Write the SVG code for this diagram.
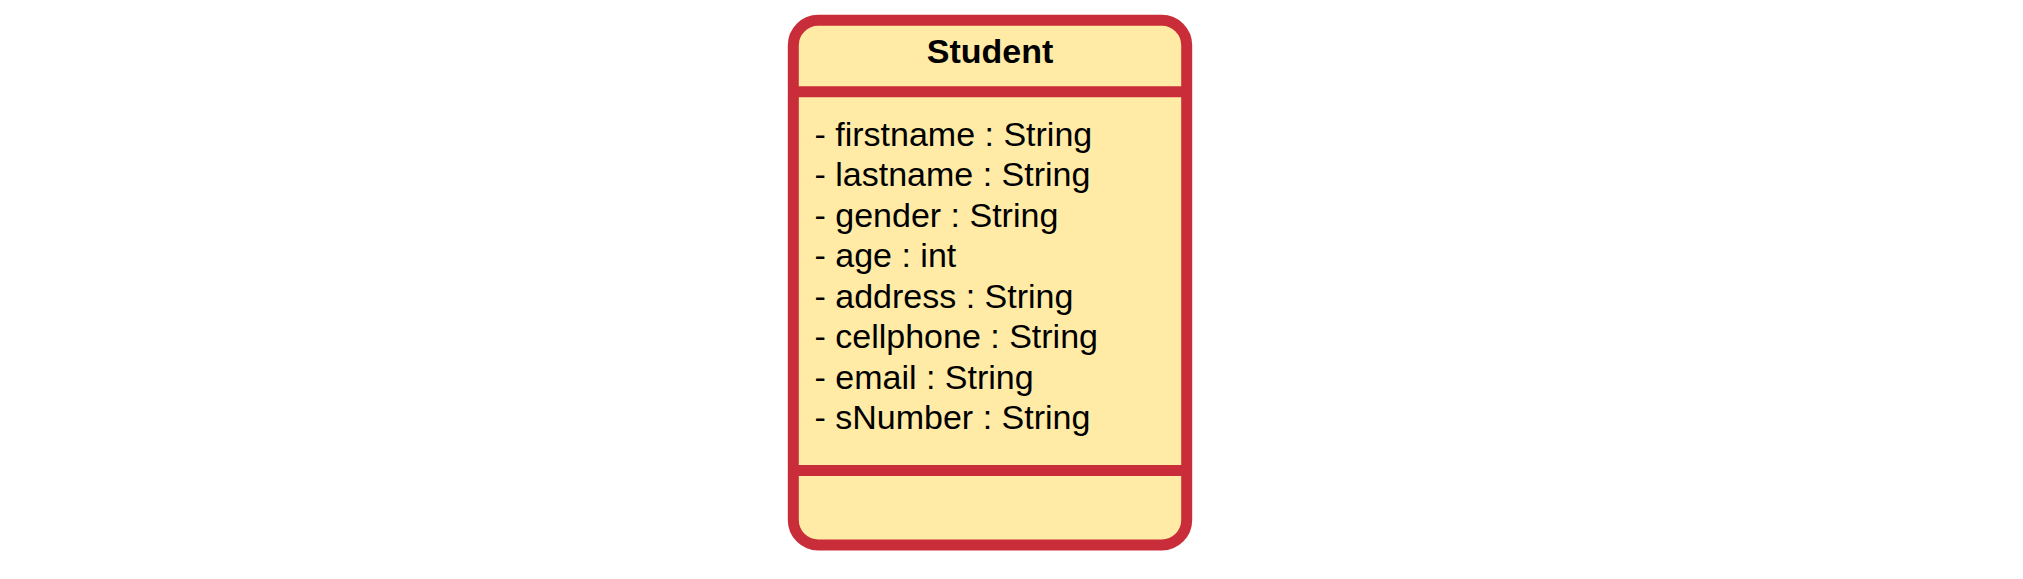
<svg xmlns="http://www.w3.org/2000/svg" width="2023" height="579" viewBox="0 0 2023 579">
<style>
.box{fill:#FFEBA6;stroke:#C92D39;stroke-width:11}
.div{stroke:#C92D39;stroke-width:11}
.title{font-family:"Liberation Sans",Arial,sans-serif;font-weight:bold;font-size:34px;fill:#000;text-anchor:middle}
.attr{font-family:"Liberation Sans",Arial,sans-serif;font-size:34px;fill:#000}
</style>
<rect width="2023" height="579" fill="#ffffff"/>
<g id="student">
<rect class="box" x="793.3" y="20.3" width="393.4" height="524.7" rx="25" ry="25"/>
<line class="div" x1="793.3" y1="91.7" x2="1186.7" y2="91.7"/>
<line class="div" x1="793.3" y1="470.5" x2="1186.7" y2="470.5"/>
<text class="title" x="990.1" y="63.3">Student</text>
<text class="attr" x="814.5" y="145.7">- firstname : String</text>
<text class="attr" x="814.5" y="186.2">- lastname : String</text>
<text class="attr" x="814.5" y="226.6">- gender : String</text>
<text class="attr" x="814.5" y="267.1">- age : int</text>
<text class="attr" x="814.5" y="307.6">- address : String</text>
<text class="attr" x="814.5" y="348.1">- cellphone : String</text>
<text class="attr" x="814.5" y="388.5">- email : String</text>
<text class="attr" x="814.5" y="429">- sNumber : String</text>
</g>
<g id="connectors"></g>
</svg>
